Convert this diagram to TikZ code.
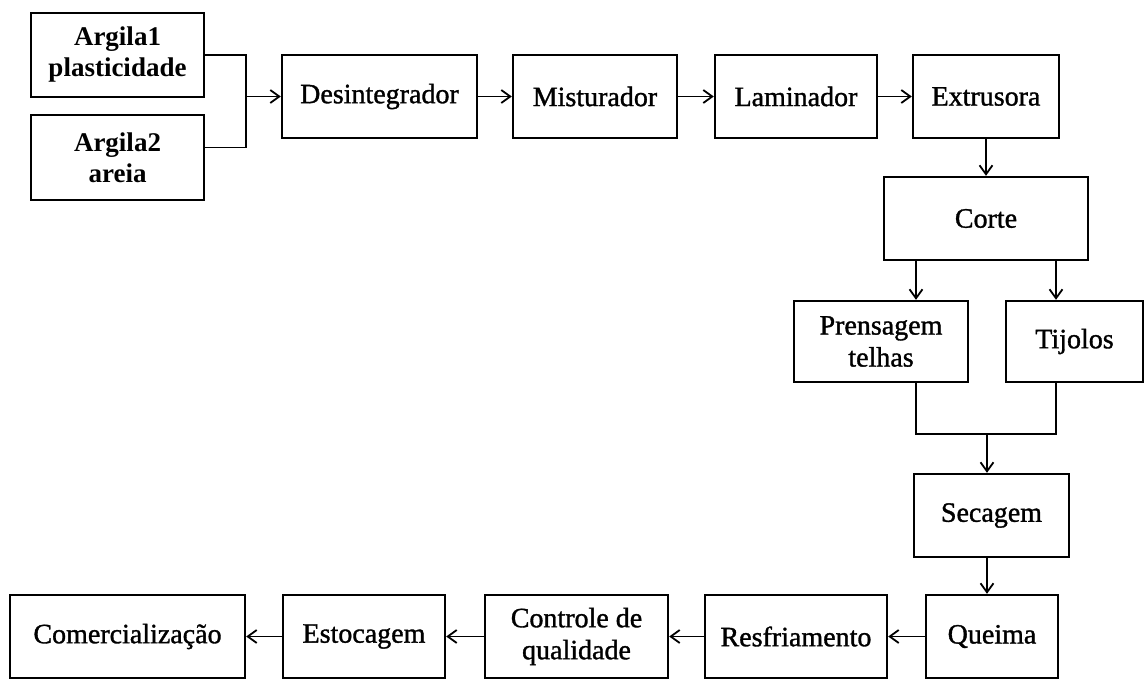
\documentclass[tikz,border=0pt]{standalone}
\usepackage{fontspec}
\setmainfont{Liberation Serif}[FakeBold=1.2]
\newfontfamily\boldserif{Liberation Serif Bold}
\usetikzlibrary{arrows.meta,calc}
\begin{document}
\begin{tikzpicture}[x=1pt,y=-1pt,
  box/.style={draw=black,line width=2.4pt,inner sep=0pt,align=center,
    font=\fontsize{28}{32}\selectfont,minimum height=83pt},
  bbox/.style={box,font=\fontsize{27}{31}\boldserif},
  conn/.style={line width=1.8pt,-{Straight Barb[length=9pt,width=13pt,line width=1.8pt]}},
  line/.style={line width=1.8pt}]
\useasboundingbox[fill=white] (0,0) rectangle (1146,680);
% nodes
\node[bbox,minimum width=173pt,minimum height=84pt] (a1) at (117.5,55) {Argila1\\plasticidade};
\node[bbox,minimum width=173pt,minimum height=85pt] (a2) at (117.5,157.5) {Argila2\\areia};
\node[box,minimum width=195pt] (des) at (379.5,96.5) {Desintegrador};
\node[box,minimum width=164pt] (mis) at (595,96.5) {Misturador};
\node[box,minimum width=162pt] (lam) at (796,96.5) {Laminador};
\node[box,minimum width=146pt] (ext) at (986,96.5) {Extrusora};
\node[box,minimum width=204pt] (cor) at (986,218.5) {Corte};
\node[box,minimum width=174pt,minimum height=81pt] (pre) at (881,341.5) {Prensagem\\telhas};
\node[box,minimum width=137pt,minimum height=81pt] (tij) at (1074.5,341.5) {Tijolos};
\node[box,minimum width=155pt] (sec) at (991.5,515.5) {Secagem};
\node[box,minimum width=132pt] (que) at (992,636.5) {Queima};
\node[box,minimum width=182pt] (res) at (796,636.5) {Resfriamento};
\node[box,minimum width=183pt] (con) at (576.5,636.5) {Controle de\\qualidade};
\node[box,minimum width=162pt] (est) at (364,636.5) {Estocagem};
\node[box,minimum width=235pt] (com) at (127.5,636.5) {Comercialização};
% junctions
\coordinate (j1) at (246,96.5);
\coordinate (j2) at (987,434);
% connectors
\draw[line] (a1.east) -| (j1) |- ([yshift=10pt]a2.east);
\draw[conn] (j1) -- (des.west);
\draw[conn] (des.east) -- (mis.west);
\draw[conn] (mis.east) -- (lam.west);
\draw[conn] (lam.east) -- (ext.west);
\draw[conn] (ext.south) -- (cor.north);
\draw[conn] (cor.south -| 916,0) -- (pre.north -| 916,0);
\draw[conn] (cor.south -| 1056,0) -- (tij.north -| 1056,0);
\draw[line] (pre.south -| 916,0) |- (j2) -| (tij.south -| 1056,0);
\draw[conn] (j2) -- (sec.north -| j2);
\draw[conn] (sec.south -| j2) -- (que.north -| j2);
\draw[conn] (que.west) -- (res.east);
\draw[conn] (res.west) -- (con.east);
\draw[conn] (con.west) -- (est.east);
\draw[conn] (est.west) -- (com.east);
\end{tikzpicture}
\end{document}
